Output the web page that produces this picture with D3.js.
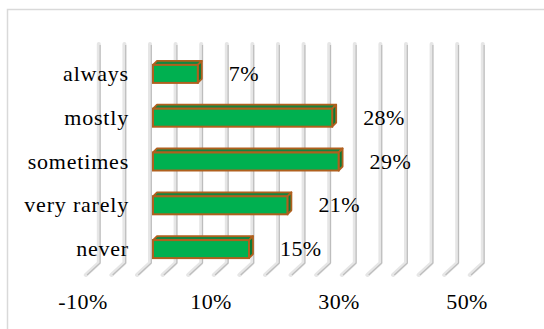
<!DOCTYPE html>
<html>
<head>
<meta charset="utf-8">
<script src="https://cdn.jsdelivr.net/npm/d3@7/dist/d3.min.js"></script>
<style>
  html, body { margin: 0; padding: 0; background: #fff; }
  svg { display: block; }
</style>
</head>
<body>
<script>
// Survey answers (share of respondents), top to bottom
const categories = ["always", "mostly", "sometimes", "very rarely", "never"];
const values = [7, 28, 29, 21, 15];
const valueLabels = ["7%", "28%", "29%", "21%", "15%"];

// Value axis: labelled ticks and wall gridlines
const tickValues = [-10, 10, 30, 50];
const tickLabels = ["-10%", "10%", "30%", "50%"];
const gridValues = [-8, -4, 0, 4, 8, 12, 16, 20, 24, 28, 32, 36, 40, 44, 48, 52];

const W = 544, H = 329;
const FONT = "'Liberation Serif', 'Times New Roman', Times, 'DejaVu Serif', serif";
const svg = d3.select("body").append("svg").attr("width", W).attr("height", H);

// Outer chart frame (only top and left edges fall inside the window)
svg.append("path")
  .attr("d", "M7.5,329 V9.5 H544")
  .attr("fill", "none")
  .attr("stroke", "#d9d9d9")
  .attr("stroke-width", 1.5);

const x = d3.scaleLinear().domain([-10, 50]).range([86, 470]);
const y = d3.scaleBand().domain(categories).range([52, 271])
  .paddingInner(0.589).paddingOuter(0.2945);

const depth = 4;          // 3-D depth of the bars
const frontShift = 3;     // bars sit slightly in front of the wall
const wallTop = 44, wallBottom = 263;
const floorDx = -13, floorDy = 12;

// Wall gridlines drawn as 3-D rods that bend onto the floor
const grid = svg.append("g");
gridValues.forEach(v => {
  const gx = x(v);
  grid.append("path")
    .attr("d", `M${gx},${wallTop} V${wallBottom} L${gx + floorDx},${wallBottom + floorDy}`)
    .attr("fill", "none").attr("stroke", "#e6e6e6")
    .attr("stroke-width", 4).attr("stroke-linecap", "round").attr("stroke-linejoin", "round");
  grid.append("path")
    .attr("d", `M${gx + 1.3},${wallTop + 1} V${wallBottom} L${gx + 1.3 + floorDx},${wallBottom + floorDy}`)
    .attr("fill", "none").attr("stroke", "#bdbdbd")
    .attr("stroke-width", 1.2);
});

// Bars
const bars = svg.append("g");
const edge = "#b0601e";
categories.forEach((c, i) => {
  const x0 = x(0) + frontShift, x1 = x(values[i]) + frontShift;
  const y0 = y(c), y1 = y(c) + y.bandwidth();
  const g = bars.append("g");
  // top face
  g.append("path")
    .attr("d", `M${x0},${y0} L${x0 + depth},${y0 - depth} L${x1 + depth},${y0 - depth} L${x1},${y0} Z`)
    .attr("fill", "#15853f").attr("stroke", edge).attr("stroke-width", 1.8).attr("stroke-linejoin", "round");
  // side face
  g.append("path")
    .attr("d", `M${x1},${y0} L${x1 + depth},${y0 - depth} L${x1 + depth},${y1 - depth} L${x1},${y1} Z`)
    .attr("fill", "#0b7a36").attr("stroke", edge).attr("stroke-width", 1.8).attr("stroke-linejoin", "round");
  // front face
  g.append("rect")
    .attr("x", x0).attr("y", y0).attr("width", x1 - x0).attr("height", y1 - y0)
    .attr("fill", "#00b050").attr("stroke", edge).attr("stroke-width", 2);

  // value label
  svg.append("text")
    .attr("x", x1 + 31).attr("y", (y0 + y1) / 2 + 7)
    .attr("font-family", FONT)
    .attr("font-size", 22).attr("letter-spacing", 0.4)
    .text(valueLabels[i]);

  // category label
  svg.append("text")
    .attr("x", 129).attr("y", (y0 + y1) / 2 + 7)
    .attr("text-anchor", "end")
    .attr("font-family", FONT)
    .attr("font-size", 22).attr("letter-spacing", 0.8)
    .text(c);
});

// Value axis labels
tickValues.forEach((v, i) => {
  svg.append("text")
    .attr("x", x(v) - 3).attr("y", 309)
    .attr("text-anchor", "middle")
    .attr("font-family", FONT)
    .attr("font-size", 22).attr("letter-spacing", 0.4)
    .text(tickLabels[i]);
});
</script>
</body>
</html>
